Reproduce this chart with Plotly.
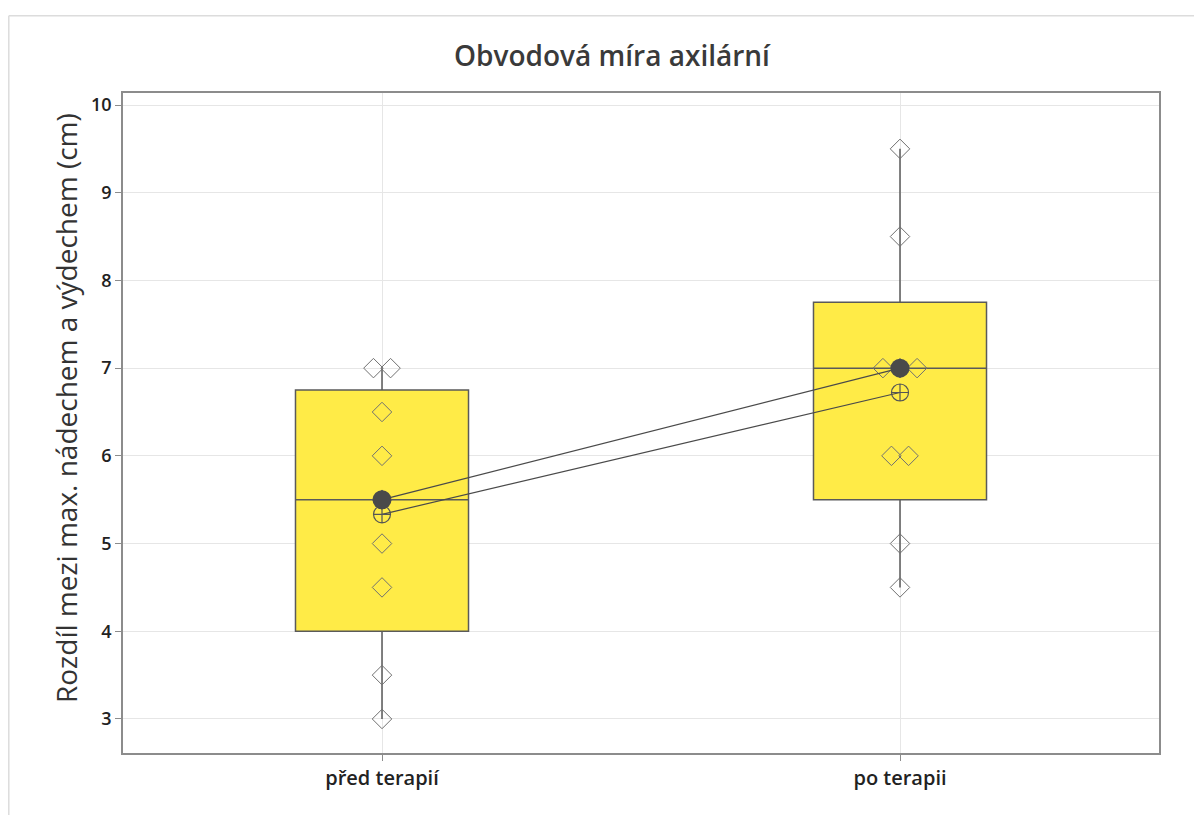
import plotly.graph_objects as go
from collections import Counter

categories = ["před terapií", "po terapii"]
pred_values = [3, 3.5, 4.5, 5, 5.5, 6, 6.5, 7, 7]
po_values = [4.5, 5, 6, 6, 7, 7, 7, 8.5, 9.5]
series = [pred_values, po_values]
y_ticks = [3, 4, 5, 6, 7, 8, 9, 10]

title_text = "Obvodová míra axilární"
y_title = "Rozdíl mezi max. nádechem a výdechem (cm)"

BOX_FILL = "#FFEB47"
EDGE = "#5a5a5a"
DARK = "#4a4a4a"
FONT = "Open Sans"

fig = go.Figure()

# boxes
for i, vals in enumerate(series):
    fig.add_trace(go.Box(
        y=vals, x=[i] * len(vals), boxpoints=False, quartilemethod="exclusive",
        fillcolor=BOX_FILL, line=dict(color=EDGE, width=1.5), whiskerwidth=0,
        width=0.334, showlegend=False, hoverinfo="skip"))

# individual points, duplicates spread sideways
spacing = 0.033
for i, vals in enumerate(series):
    counts = Counter(vals)
    seen = Counter()
    xs, ys = [], []
    for v in vals:
        k = counts[v]
        j = seen[v]
        seen[v] += 1
        xs.append(i + (j - (k - 1) / 2) * spacing)
        ys.append(v)
    fig.add_trace(go.Scatter(
        x=xs, y=ys, mode="markers",
        marker=dict(symbol="diamond-open", size=15, color="#707070", line=dict(width=1)),
        showlegend=False, hoverinfo="skip"))

def median(v):
    s = sorted(v); n = len(s)
    return s[n // 2] if n % 2 else (s[n // 2 - 1] + s[n // 2]) / 2

medians = [median(v) for v in series]
means = [sum(v) / len(v) for v in series]
xs_idx = list(range(len(categories)))

fig.add_trace(go.Scatter(x=xs_idx, y=means, mode="lines+markers",
                         line=dict(color=DARK, width=1.2),
                         marker=dict(symbol="circle-cross-open", size=17, color="#555555",
                                     line=dict(width=1.2)),
                         showlegend=False, hoverinfo="skip"))
fig.add_trace(go.Scatter(x=xs_idx, y=medians, mode="lines+markers",
                         line=dict(color=DARK, width=1.2),
                         marker=dict(symbol="circle", size=19, color=DARK),
                         showlegend=False, hoverinfo="skip"))

OFF = 8  # page offset of the figure
W, H = 1194, 807
L, R, T, B = 115, 43, 85, 62
pw, ph = W - L - R, H - T - B

def px_x(page_x):
    return (page_x - OFF - L) / pw

def px_y(page_y):
    return (H - B - (page_y - OFF)) / ph

# light outer frame (top and left edges)
fig.add_shape(type="line", xref="paper", yref="paper",
              x0=px_x(8.8), x1=px_x(1215), y0=px_y(15.8), y1=px_y(15.8),
              line=dict(color="#dcdcdc", width=1.5))
fig.add_shape(type="line", xref="paper", yref="paper",
              x0=px_x(8.8), x1=px_x(8.8), y0=px_y(15.8), y1=px_y(830),
              line=dict(color="#dcdcdc", width=1.5))

fig.add_annotation(text=y_title, xref="paper", yref="paper",
                   x=px_x(66), y=px_y(408), xanchor="center", yanchor="middle",
                   textangle=-90, showarrow=False,
                   font=dict(family=FONT, size=28, color="#333333"))

fig.update_layout(
    width=W, height=H,
    margin=dict(l=L, r=R, t=T, b=B),
    paper_bgcolor="white", plot_bgcolor="white",
    title=dict(text=title_text, x=(612 - OFF) / W, xref="container", xanchor="center",
               y=1 - (56 - OFF) / H, yref="container", yanchor="middle",
               font=dict(family=FONT, size=28, color="#3a3a3a", weight=600)),
    font=dict(family=FONT, color="#222222"),
)
fig.update_xaxes(
    range=[-0.5, 1.5], tickvals=xs_idx, ticktext=categories,
    tickfont=dict(family=FONT, size=20, color="#222222", weight=600),
    showgrid=True, gridcolor="#e6e6e6", gridwidth=1,
    showline=True, linecolor="#8c8c8c", linewidth=1.5, mirror=True,
    ticks="outside", ticklen=6, tickcolor="#8c8c8c", zeroline=False)
fig.update_yaxes(
    range=[2.612, 10.137], tickvals=y_ticks,
    tickfont=dict(family=FONT, size=18, color="#222222", weight=600),
    showgrid=True, gridcolor="#e6e6e6", gridwidth=1,
    showline=True, linecolor="#8c8c8c", linewidth=1.5, mirror=True,
    ticks="outside", ticklen=6, tickcolor="#8c8c8c", zeroline=False)

fig.write_html("out.html")
